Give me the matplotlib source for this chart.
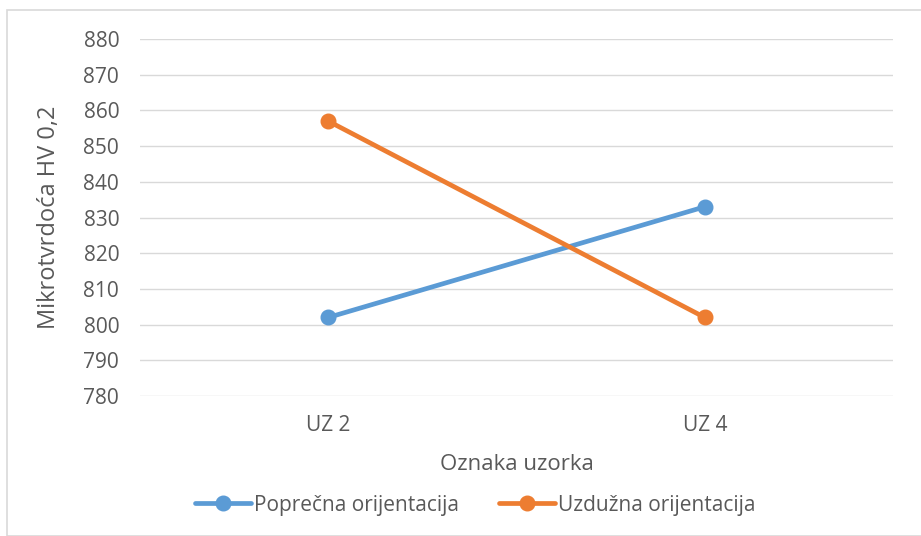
import matplotlib
matplotlib.use("Agg")
import matplotlib.pyplot as plt
from matplotlib.patches import Rectangle

# data
samples = ["UZ 2", "UZ 4"]
poprecna = [802, 833]
uzduzna = [857, 802]
series_names = ["Poprečna orijentacija", "Uzdužna orijentacija"]
y_ticks = list(range(780, 881, 10))

plt.rcParams["font.family"] = ["Open Sans", "DejaVu Sans"]
text_col = "#595959"

fig = plt.figure(figsize=(9.21, 5.36), dpi=100)
ax = fig.add_axes([140 / 921, 1 - 396 / 536, (893 - 140) / 921, (396 - 39) / 536])

x = list(range(len(samples)))
ax.plot(x, poprecna, color="#5B9BD5", lw=3.4, marker="o", ms=10.5,
        label=series_names[0], solid_capstyle="round", zorder=3)
ax.plot(x, uzduzna, color="#ED7D31", lw=3.4, marker="o", ms=10.5,
        label=series_names[1], solid_capstyle="round", zorder=3)

ax.set_xlim(-0.5, len(samples) - 0.5)
ax.set_ylim(780, 880)
ax.set_yticks(y_ticks)
ax.set_xticks(x)
ax.set_xticklabels(samples)
ax.yaxis.grid(True, color="#d9d9d9", lw=1.0)
ax.set_axisbelow(True)
for s in ax.spines.values():
    s.set_visible(False)
ax.tick_params(length=0, labelsize=15, colors=text_col)
ax.tick_params(axis="y", pad=15)
ax.tick_params(axis="x", pad=14)

ax.set_ylabel("Mikrotvrdoća HV 0,2", fontsize=17, color=text_col, labelpad=16)
ax.set_xlabel("Oznaka uzorka", fontsize=16, color=text_col, labelpad=13)

leg = fig.legend(loc="center", bbox_to_anchor=(475 / 921, 1 - 505 / 536), ncol=2,
                 frameon=False, fontsize=15, handlelength=2.7, handletextpad=0.15,
                 columnspacing=1.9, labelcolor=text_col)

fig.patches.append(Rectangle((7 / 921, 0), 1.2, 1 - 10 / 536, transform=fig.transFigure,
                             fill=False, edgecolor="#d9d9d9", lw=1.2))

fig.savefig("out.png", dpi=100)
